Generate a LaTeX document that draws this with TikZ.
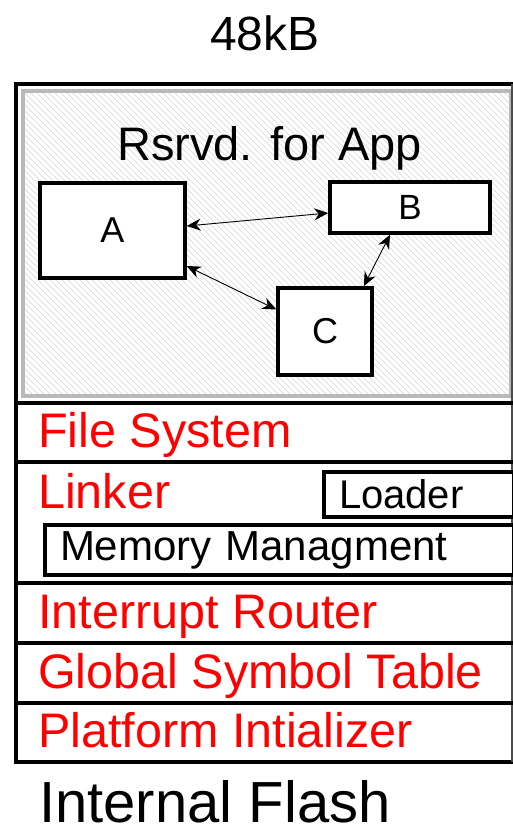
\documentclass[tikz,border=0pt]{standalone}
\usepackage{fontspec}
\setmainfont{Liberation Sans}
\usetikzlibrary{arrows.meta,calc}
\begin{document}
\begin{tikzpicture}[x=1pt,y=-1pt,
  box/.style={draw=black, line width=3.5pt, fill=white, inner sep=0pt},
  lbl/.style={anchor=base west, inner sep=0pt, text=red, font=\fontsize{48.5}{56}\selectfont},
  blk/.style={anchor=base west, inner sep=0pt, font=\fontsize{47}{56}\selectfont},
  arr/.style={line width=0.9pt, {Stealth[length=14pt,width=12pt]}-{Stealth[length=14pt,width=12pt]}},
  sepline/.style={line width=4.5pt}]
\useasboundingbox (0,0) rectangle (513,835);
% hatched reserved area
\begin{scope}
\clip (24,92) rectangle (511,397);
\foreach \i in {-300,-294,...,512} \draw[gray!25, line width=0.8pt] (\i,92) -- ++(320,320);
\end{scope}
\draw[gray!55, line width=4pt] (22.5,90.5) rectangle (511,396);
% frame
\draw[sepline] (516,84) -- (16,84) -- (16,762) -- (516,762);
\draw[black!70, line width=2pt] (512,84) -- (512,762);
\foreach \yy in {403,462,583,643,703} \draw[sepline] (16,\yy) -- (516,\yy);
% title & footer
\node[blk, anchor=base, font=\fontsize{48}{58}\selectfont] (title) at (265,50) {48kB};
\node[blk, font=\fontsize{58}{70}\selectfont] (flash) at (39,822) {Internal Flash};
\node[blk] (rsrvd) at (117,160) {Rsrvd. for App};
% app boxes
\node[box, minimum width=145pt, minimum height=95pt, font=\fontsize{36}{40}\selectfont] (A) at (112.5,230.5) {A};
\node[box, minimum width=160pt, minimum height=51pt, font=\fontsize{35}{40}\selectfont] (B) at (410,207.5) {B};
\node[box, minimum width=94pt, minimum height=87pt, font=\fontsize{36}{40}\selectfont] (C) at (325,331.5) {C};
\draw[arr] ([yshift=4.5pt]A.east) -- ([yshift=-5.5pt]B.west);
\draw[arr] ([yshift=-35.5pt]A.east) -- ([yshift=22pt]C.west);
\draw[arr] ([xshift=-20pt]B.south) -- ([xshift=-10pt]C.north east);
% layers
\node[lbl] (fs) at (38,447) {File System};
\node[lbl] (linker) at (38,508) {Linker};
\node[box, line width=4pt, anchor=west, text width=160pt, inner xsep=15pt, minimum height=45pt, align=left, font=\fontsize{40}{46}\selectfont] (loader) at (322,494.5) {Loader};
\node[box, line width=4pt, anchor=west, text width=439pt, inner xsep=15pt, minimum height=50pt, align=left, font=\fontsize{42}{48}\selectfont] (mem) at (43,550) {Memory Managment};
\node[lbl] (ir) at (38,628) {Interrupt Router};
\node[lbl] (gst) at (38,688) {Global Symbol Table};
\node[lbl] (pi) at (38,747) {Platform Intializer};
\end{tikzpicture}
\end{document}
